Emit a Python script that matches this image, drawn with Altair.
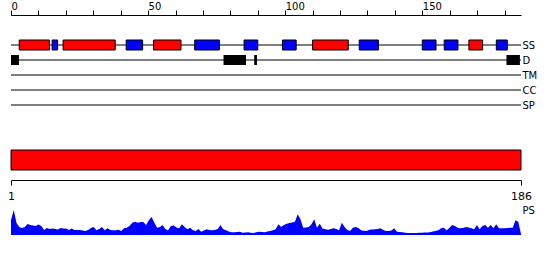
import altair as alt
import pandas as pd

FONT = "DejaVu Sans"
SEQ_LEN = 186

tracks = ["SS", "D", "TM", "CC", "SP"]

# secondary structure elements (H = helix, red; E = strand, blue)
ss_start = [3, 15, 19, 42, 52, 67, 85, 99, 110, 127, 150, 158, 167, 177]
ss_end = [14, 17, 38, 48, 62, 76, 90, 104, 123, 134, 155, 163, 172, 181]
ss_type = ["H", "E", "H", "E", "H", "E", "E", "E", "H", "E", "E", "E", "H", "E"]

# disordered regions
dis_start = [0, 77.5, 88.7, 180.7]
dis_end = [2.9, 85.7, 89.7, 185.6]

# domain bar
dom_start = [1]
dom_end = [186]

# per-residue PS profile (residues 1..186)
ps_values = [
    15, 25, 12, 8, 7, 8, 11, 10, 9.5, 9,
    10.5, 9, 5, 7, 6, 6.5, 6, 5.5, 7, 6.5,
    6.5, 5, 6.5, 5, 5, 5, 4.5, 4, 5, 7,
    8, 4.7, 6, 8, 4.7, 6.7, 5, 4.7, 4.7, 5.3,
    4, 6.7, 7.3, 9, 12.3, 13.3, 12.3, 13, 13, 10,
    14.7, 18, 12.3, 7.3, 8, 10, 5.7, 4.7, 9, 9.5,
    7.5, 6.7, 10.7, 8, 5.7, 7.3, 4.7, 4, 6, 3.3,
    4.5, 5.7, 5, 4.7, 5, 6, 10, 5.7, 4.7, 3.5,
    2.7, 2.7, 3, 3.3, 2.2, 2.5, 2.7, 2.3, 2, 2.8,
    3.3, 2.9, 2.7, 3.5, 4, 4.7, 5.7, 10.7, 8, 10,
    11.3, 12, 12.5, 13.3, 20.7, 15.7, 7.3, 7.5, 8, 10.7,
    15.7, 7.3, 11.3, 6.5, 5.7, 5.3, 6, 6.7, 6, 4.7,
    12.3, 8, 5, 4, 7.3, 8, 7, 4.7, 4.3, 4,
    5.3, 5.5, 5.7, 6, 6.7, 5, 4, 4, 4.5, 6.7,
    3.3, 3, 2.7, 2.3, 2, 2, 2, 2, 2.2, 2.3,
    2.5, 2.6, 2.7, 3.5, 4, 4.7, 6.7, 7.3, 4.7, 7,
    10, 9, 7.3, 6.7, 7, 8, 7.5, 6.7, 5.7, 10,
    5.7, 9, 10, 7.3, 10, 6.7, 10.7, 6.7, 6.7, 6.7,
    7, 7.3, 7.3, 14.7, 13.3, 1,
]
assert len(ps_values) == SEQ_LEN

lines_df = pd.DataFrame({"track": tracks, "start": [0] * len(tracks), "end": [SEQ_LEN] * len(tracks)})
ss_df = pd.DataFrame({"track": "SS", "start": ss_start, "end": ss_end, "type": ss_type})
dis_df = pd.DataFrame({"track": "D", "start": dis_start, "end": dis_end})
dom_df = pd.DataFrame({"start": dom_start, "end": dom_end})
ps_df = pd.DataFrame({"pos": list(range(1, SEQ_LEN + 1)), "ps": ps_values})

top_axis = alt.Axis(
    orient="top", values=list(range(0, 190, 10)),
    labelExpr="datum.value % 50 == 0 ? datum.label : ''",
    labelAlign="left", labelFlush=False, labelOverlap=False,
    tickSize=5, labelPadding=-1.5, grid=False, title=None,
    domainColor="black", tickColor="black", labelColor="black",
    labelFont=FONT, labelFontSize=10,
)
x_top = alt.X("start:Q", scale=alt.Scale(domain=[0, SEQ_LEN], nice=False, zero=False), axis=top_axis)
y_tracks = alt.Y(
    "track:N",
    scale=alt.Scale(type="point", domain=tracks, range=[30, 90], padding=0),
    axis=alt.Axis(orient="right", ticks=False, domain=False, labelPadding=1,
                  labelFont=FONT, labelFontSize=10, labelColor="black",
                  labelAlign="left", labelBaseline="middle", title=None, grid=False),
)

lines = alt.Chart(lines_df).mark_rule(color="black", strokeWidth=1).encode(x=x_top, x2="end:Q", y=y_tracks)
ss = alt.Chart(ss_df).mark_bar(size=10, stroke="black", strokeWidth=1).encode(
    x=x_top, x2="end:Q", y=y_tracks,
    color=alt.Color("type:N", scale=alt.Scale(domain=["H", "E"], range=["#ff0000", "#0000ff"]), legend=None),
)
dis = alt.Chart(dis_df).mark_bar(size=10, color="black").encode(x=x_top, x2="end:Q", y=y_tracks)
panel1 = alt.layer(lines, ss, dis).properties(width=510, height=133)

bottom_scale = alt.Scale(domain=[1, SEQ_LEN], nice=False, zero=False)
bottom_axis = alt.Axis(
    orient="bottom", values=[1, SEQ_LEN], tickSize=5, offset=10, labelPadding=5,
    labelFont=FONT, labelFontSize=11, labelColor="black", labelFlush=False, labelOverlap=False,
    domainColor="black", tickColor="black", grid=False, title=None,
)
panel2 = alt.Chart(dom_df).mark_rect(color="#ff0000", stroke="black", strokeWidth=1).encode(
    x=alt.X("start:Q", scale=bottom_scale, axis=bottom_axis), x2="end:Q"
).properties(width=510, height=20)

panel3 = alt.Chart(ps_df).mark_area(color="#0000ff", opacity=1, interpolate="linear").encode(
    x=alt.X("pos:Q", scale=bottom_scale, axis=None),
    y=alt.Y("ps:Q", scale=alt.Scale(domain=[0, 32], nice=False, zero=True),
            axis=alt.Axis(orient="right", title="PS", titleAngle=0, titleAlign="left",
                          titleBaseline="top", titleX=1, titleY=2, ticks=False, labels=False,
                          domain=False, grid=False, titleFont=FONT, titleFontSize=10,
                          titleFontWeight="normal", titleColor="black")),
).properties(width=510, height=32)

chart = alt.vconcat(panel1, panel2, panel3, spacing=0).properties(
    padding={"left": 7, "top": 1, "right": 0, "bottom": 0}, background="white"
).configure_view(stroke="transparent")

chart.save("out.html", embed_options={"renderer": "svg", "actions": False})
